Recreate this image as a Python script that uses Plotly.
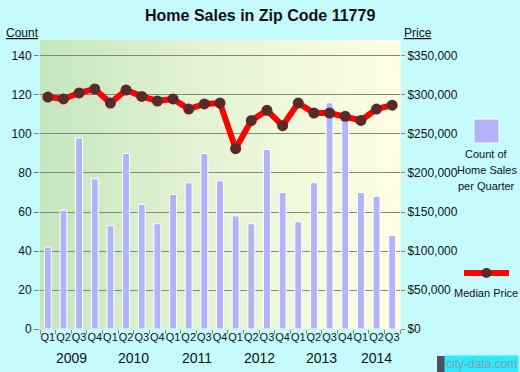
import plotly.graph_objects as go

quarters = ["Q1", "Q2", "Q3", "Q4"] * 5 + ["Q1", "Q2", "Q3"]
years = ["2009", "2010", "2011", "2012", "2013", "2014"]
counts = [42, 61, 98, 77, 53, 90, 64, 54, 69, 75, 90, 76,
          58, 54, 92, 70, 55, 75, 116, 111, 70, 68, 48]
prices = [297400, 294900, 302600, 307700, 289700, 306400, 298200, 292300,
          294900, 282000, 288500, 289700, 231200, 267200, 280300, 260700,
          289700, 276900, 276900, 272600, 267400, 282000, 287000]
count_ticks = [0, 20, 40, 60, 80, 100, 120, 140]
price_ticks = [0, 50000, 100000, 150000, 200000, 250000, 300000, 350000]

x = list(range(len(counts)))
FONT = "Liberation Sans, Arial, sans-serif"
GRAY = "#858585"

fig = go.Figure()
fig.add_trace(go.Bar(x=x, y=counts, width=0.44,
                     marker=dict(color="#B3B3F9", line=dict(color="white", width=1)),
                     showlegend=False, hoverinfo="skip"))
fig.add_trace(go.Scatter(x=x, y=prices, yaxis="y2", mode="lines+markers",
                         line=dict(color="#FF0000", width=6),
                         marker=dict(color="#5A2A2A", size=11),
                         showlegend=False, hoverinfo="skip"))

# gradient plot background
shapes = []
N = 90
stops = [(0.0, (196, 230, 190)), (0.45, (228, 243, 212)), (1.0, (254, 254, 228))]
def col(t):
    for (a, ca), (b, cb) in zip(stops[:-1], stops[1:]):
        if a <= t <= b:
            f = (t - a) / (b - a)
            return "rgb(%d,%d,%d)" % tuple(round(ca[k] + (cb[k] - ca[k]) * f) for k in range(3))
    return "rgb(%d,%d,%d)" % stops[-1][1]
for i in range(N):
    shapes.append(dict(type="rect", xref="paper", yref="paper", x0=i / N, x1=(i + 1) / N + 0.002,
                       y0=0, y1=1, fillcolor=col((i + 0.5) / N), line=dict(width=0), layer="below"))

# legend (manual)
def px_x(p): return (p - 40) / 360
def px_y(p): return (329 - p) / 289
shapes.append(dict(type="rect", xref="paper", yref="paper", x0=px_x(474), x1=px_x(499),
                   y0=px_y(143), y1=px_y(119), fillcolor="#B3B3F9",
                   line=dict(color="white", width=1)))
shapes.append(dict(type="line", xref="paper", yref="paper", x0=px_x(464), x1=px_x(509),
                   y0=px_y(273), y1=px_y(273), line=dict(color="#FF0000", width=6)))
shapes.append(dict(type="circle", xref="paper", yref="paper", x0=px_x(481.5), x1=px_x(491.5),
                   y0=px_y(278), y1=px_y(268), fillcolor="#5A2A2A", line=dict(width=0)))

ann = []
def A(text, xp, yp, size=12, xanchor="center", **kw):
    ann.append(dict(text=text, x=px_x(xp), y=px_y(yp), xref="paper", yref="paper",
                    showarrow=False, xanchor=xanchor, yanchor="middle",
                    font=dict(family=FONT, size=size, color="#111111"), **kw))

A("<b>Home Sales in Zip Code 11779</b>", 260, 15, size=16)
A("<u>Count</u>", 22, 33, size=12)
A("<u>Price</u>", 418, 33, size=12)
A("Count of", 486.5, 154, size=11)
A("Home Sales", 486.5, 170, size=11)
A("per Quarter", 486.5, 186, size=11)
A("Median Price", 486, 293, size=11)
year_centers = [1.5, 5.5, 9.5, 13.5, 17.5, 21]
for yr, c in zip(years, year_centers):
    ann.append(dict(text=yr, x=c, y=px_y(358), xref="x", yref="paper", showarrow=False,
                    xanchor="center", yanchor="middle",
                    font=dict(family=FONT, size=14, color="#111111")))
ann.append(dict(text="city-data.com", x=px_x(519), y=px_y(364), xref="paper", yref="paper",
                showarrow=False, xanchor="right", yanchor="middle", bgcolor="#2EEAFF",
                font=dict(family=FONT, size=12, color="#8A9AA8"), borderpad=1))
shapes.append(dict(type="rect", xref="paper", yref="paper", x0=px_x(437), x1=px_x(455),
                   y0=px_y(372), y1=px_y(356), fillcolor="#4A5060", line=dict(width=0)))

fig.update_layout(
    width=520, height=372,
    margin=dict(l=40, r=120, t=40, b=43, autoexpand=False),
    paper_bgcolor="#C5FBFB", plot_bgcolor="#E6F4D8",
    bargap=0, showlegend=False,
    font=dict(family=FONT, size=12, color="#111111"),
    xaxis=dict(range=[-0.5, 22.5], tickmode="array", tickvals=x, ticktext=quarters,
               ticks="", showgrid=False, zeroline=False, showline=False, automargin=False,
               tickangle=0, tickfont=dict(size=11),
               minor=dict(tickmode="linear", tick0=-0.5, dtick=1, ticks="outside",
                          ticklen=4, tickcolor=GRAY, showgrid=False)),
    xaxis2=dict(range=[-0.5, 22.5], overlaying="x", anchor="y", side="bottom",
                tickmode="array", tickvals=[-0.5, 3.5, 7.5, 11.5, 15.5, 19.5, 22.5],
                ticks="outside", ticklen=7, tickcolor=GRAY, showticklabels=False,
                showgrid=False, zeroline=False, automargin=False),
    yaxis=dict(range=[0, 148.2], tickmode="array", tickvals=count_ticks,
               ticks="outside", ticklen=5, tickcolor=GRAY, showgrid=True,
               gridcolor=GRAY, gridwidth=1, zeroline=False, showline=False,
               automargin=False, tickfont=dict(size=12)),
    yaxis2=dict(range=[0, 148.2 * 2500], overlaying="y", side="right", tickmode="array",
                tickvals=price_ticks, tickformat="$,.0f", ticks="outside", ticklen=4,
                tickcolor=GRAY, showgrid=False, zeroline=False, showline=False,
                automargin=False, tickfont=dict(size=12)),
    shapes=shapes,
    annotations=ann,
)

fig.write_html("out.html", config={"displayModeBar": False, "staticPlot": True},
               post_script="document.body.style.margin='0';document.body.style.overflow='hidden';")
